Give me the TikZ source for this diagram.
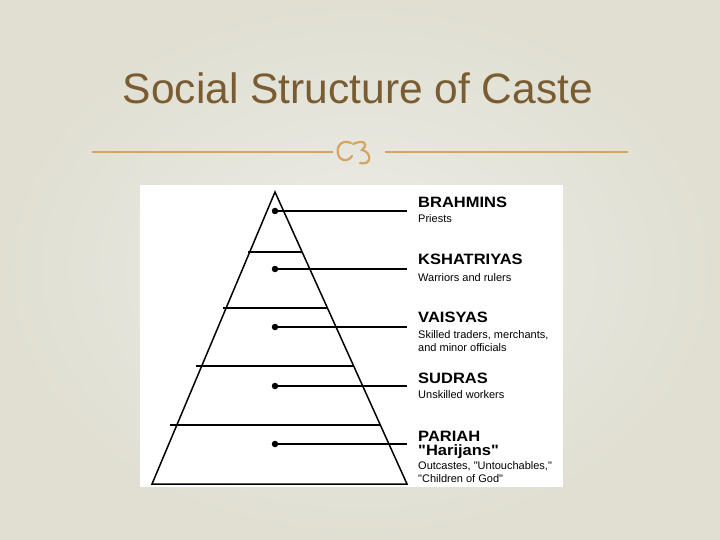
\documentclass[tikz,border=0pt]{standalone}
\usepackage{fontspec}
\setmainfont{Liberation Sans}
\definecolor{bg}{HTML}{ECECE8}
\definecolor{bgedge}{HTML}{E0DFD2}
\definecolor{titlec}{HTML}{7A5C32}
\definecolor{gold}{HTML}{D4A460}
\newcommand{\q}{\textquotedbl}
\begin{document}
\begin{tikzpicture}[x=1pt,y=-1pt,
  line/.style={line width=1.5pt,black},
  head/.style={anchor=west,font=\bfseries\fontsize{15}{16}\selectfont,inner sep=0,xscale=1.1},
  sub/.style={anchor=west,font=\fontsize{11}{13}\selectfont,inner sep=0,align=left},
  dot/.style={circle,fill=black,inner sep=0,minimum size=6.5pt}]
\useasboundingbox (0,0) rectangle (720,540);
\shade[inner color=bg,outer color=bgedge] (0,0) rectangle (720,540);
\node[font=\fontsize{42.5}{48}\selectfont,text=titlec] (title) at (358,88) {Social Structure of Caste};
\coordinate (l1) at (92,152); \coordinate (l2) at (333,152);
\coordinate (r1) at (385,152); \coordinate (r2) at (628,152);
\draw[gold,line width=1.2pt] (l1)--(l2) (r1)--(r2);
% ornament
\draw[gold,line width=2.2pt,line cap=round] (351,143) .. controls (340,138) and (334,150) .. (340,158) .. controls (344,162) and (350,160) .. (352,156);
\draw[gold,line width=2.2pt,line cap=round] (353,144) .. controls (362,140) and (370,142) .. (362,150) .. controls (372,152) and (372,166) .. (360,163);
\fill[white] (140,185) rectangle (563,487);
\coordinate (apex) at (275,192);
\coordinate (bl) at (152,484);
\coordinate (br) at (407,484);
\draw[line] (bl)--(apex)--(br)--cycle;
\foreach \y in {252,308,366,425}{
  \pgfmathsetmacro{\dx}{(\y-192)/292*132}
  \draw[line width=2pt] (275-\dx,\y)--(275+\dx,\y);
}
\foreach \y/\n in {211/a,269/b,327/c,386/d,444/e}{
  \node[dot] (d\n) at (275,\y) {};
  \coordinate (e\n) at (407,\y);
  \draw[line width=1.1pt] (d\n)--(e\n);
}
\node[head] (h1) at (418,202) {BRAHMINS};
\node[sub] (s1) at (418,219) {Priests};
\node[head] (h2) at (418,259) {KSHATRIYAS};
\node[sub] (s2) at (418,278) {Warriors and rulers};
\node[head] (h3) at (418,317) {VAISYAS};
\node[sub] (s3) at (418,341.5) {Skilled traders, merchants,\\and minor officials};
\node[head] (h4) at (418,378) {SUDRAS};
\node[sub] (s4) at (418,395) {Unskilled workers};
\node[head] (h5) at (418,436) {PARIAH};
\node[head] (h6) at (418,452) {\q Harijans\q};
\node[sub] (s5) at (418,472.5) {Outcastes, \q Untouchables,\q\\\q Children of God\q};
\end{tikzpicture}
\end{document}
